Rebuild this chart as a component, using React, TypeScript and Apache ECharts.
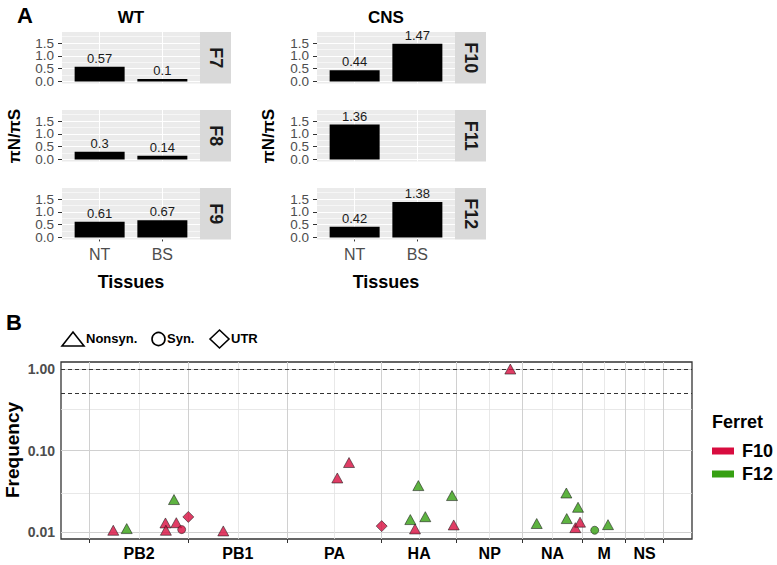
import React, { useEffect, useRef } from 'react';
import * as echarts from 'echarts';

// ---------- Panel A data ----------
const tissues = ['NT', 'BS'];
const wtFerrets = ['F7', 'F8', 'F9'];
const cnsFerrets = ['F10', 'F11', 'F12'];
const ratioF7 = [0.57, 0.1];
const ratioF8 = [0.3, 0.14];
const ratioF9 = [0.61, 0.67];
const ratioF10 = [0.44, 1.47];
const ratioF11 = [1.36, null];
const ratioF12 = [0.42, 1.38];
const ratioTicksA = [0, 1.0];
const ratioTicksB = [0.5, 1.5];
const ratioMinor = [0.25, 0.75, 1.25, 1.75];

// ---------- Panel B data ----------
const genes = ['PB2', 'PB1', 'PA', 'HA', 'NP', 'NA', 'M', 'NS'];
const segmentLengths = [2341, 2341, 2233, 1778, 1565, 1413, 1027, 890];
const freqTicks = [0.01, 0.1, 1];
const freqMinor = [0.0316, 0.316];
const freqCutoffs = [1.0, 0.5];
// [genome position, frequency]
const f10Nonsyn = [[559, 0.0105], [1795, 0.0129], [1805, 0.0105], [2052, 0.013], [3165, 0.0103], [5866, 0.046], [6143, 0.0712], [7706, 0.0109], [8623, 0.0122], [9964, 1.0], [11504, 0.0113], [11615, 0.0132]];
const f10Syn = [[2179, 0.0107]];
const f10Utr = [[2336, 0.0153], [6917, 0.0118]];
const f12Nonsyn = [[877, 0.011], [1997, 0.025], [7595, 0.0142], [7785, 0.0371], [7950, 0.0154], [8583, 0.028], [10589, 0.0127], [11291, 0.0301], [11300, 0.0146], [11568, 0.0201], [12278, 0.0123]];
const f12Syn = [[11963, 0.0105]];

const FONT = 'Liberation Sans, Arial, Helvetica, sans-serif';
const RED = '#D80C3F';
const GREEN = '#36A012';

const boundaries: number[] = [0];
segmentLengths.forEach((l, i) => boundaries.push(boundaries[i] + l));
const midpoints = segmentLengths.map((l, i) => boundaries[i] + l / 2);
const genomeEnd = boundaries[boundaries.length - 1];

const txt = (x: number, y: number, text: string, size: number, o: any = {}) => ({
  type: 'text', x, y, rotation: o.rotation || 0, silent: true,
  style: {
    text, fontSize: size, fontWeight: o.weight || 'bold', fill: o.fill || '#000',
    fontFamily: FONT, align: o.align || 'center', textAlign: o.align || 'center',
    verticalAlign: 'middle', textVerticalAlign: 'middle',
  },
});

export default function App() {
  const ref = useRef<HTMLDivElement>(null);
  useEffect(() => {
    if (!ref.current) return;
    const chart = echarts.init(ref.current, undefined, { renderer: 'svg' });

    const colLeft = [62, 317];
    const plotW = 138;
    const stripW = 31;
    const rowTop = [32, 110, 188];
    const rowH = 51.5;
    const panels = [
      { name: wtFerrets[0], vals: ratioF7 }, { name: wtFerrets[1], vals: ratioF8 }, { name: wtFerrets[2], vals: ratioF9 },
      { name: cnsFerrets[0], vals: ratioF10 }, { name: cnsFerrets[1], vals: ratioF11 }, { name: cnsFerrets[2], vals: ratioF12 },
    ];

    const grid: any[] = [];
    const xAxis: any[] = [];
    const yAxis: any[] = [];
    const series: any[] = [];
    const graphic: any[] = [];

    const ratioY = (gi: number, ticks: number[]) => ({
      gridIndex: gi, type: 'value', min: -0.08, max: 1.93, position: 'left',
      axisLine: { show: false }, splitLine: { show: false },
      axisTick: { show: true, customValues: ticks, length: 4, lineStyle: { color: '#333', width: 1 } },
      axisLabel: {
        customValues: ticks, formatter: (v: number) => v.toFixed(1), fontSize: 13.5, lineHeight: 12,
        color: '#4D4D4D', margin: 8, fontFamily: FONT, showMinLabel: true, showMaxLabel: true,
      },
    });

    panels.forEach((p, i) => {
      const c = Math.floor(i / 3);
      const r = i % 3;
      const isBottom = r === 2;
      grid.push({ left: colLeft[c], top: rowTop[r], width: plotW, height: rowH, show: true, backgroundColor: '#EBEBEB', borderWidth: 0 });
      xAxis.push({
        gridIndex: i, type: 'value', min: 0.4, max: 2.6,
        axisLine: { show: false }, splitLine: { show: false },
        axisTick: { show: isBottom, customValues: [1, 2], length: 4, lineStyle: { color: '#333', width: 1 } },
        axisLabel: { show: isBottom, customValues: [1, 2], formatter: (v: number) => tissues[Math.round(v) - 1], fontSize: 16, color: '#4D4D4D', margin: 7, fontFamily: FONT },
      });
      const yi = yAxis.length;
      yAxis.push(ratioY(i, ratioTicksA));
      yAxis.push(ratioY(i, ratioTicksB));
      series.push({
        type: 'line', xAxisIndex: i, yAxisIndex: yi, data: [], silent: true,
        markLine: {
          z: 1, silent: true, symbol: 'none', animation: false, label: { show: false },
          data: [
            ...[...ratioTicksA, ...ratioTicksB].map((v) => ({ yAxis: v, lineStyle: { color: '#FFFFFF', width: 1.1, type: 'solid' } })),
            ...ratioMinor.map((v) => ({ yAxis: v, lineStyle: { color: '#FFFFFF', width: 0.55, type: 'solid' } })),
            ...[1, 2].map((v) => ({ xAxis: v, lineStyle: { color: '#FFFFFF', width: 1.1, type: 'solid' } })),
          ],
        },
      });
      const data = p.vals.map((v, k) => (v == null ? null : [k + 1, v])).filter((d) => d !== null);
      series.push({
        type: 'bar', xAxisIndex: i, yAxisIndex: yi, data, barWidth: 50, z: 3,
        itemStyle: { color: '#000' },
        label: { show: true, position: 'top', distance: 2, fontSize: 13, color: '#1A1A1A', fontFamily: FONT, formatter: (q: any) => String(q.value[1]) },
      });
      // strip
      const sx = colLeft[c] + plotW;
      graphic.push({ type: 'rect', silent: true, shape: { x: sx, y: rowTop[r], width: stripW, height: rowH }, style: { fill: '#D9D9D9' } });
      graphic.push(txt(sx + stripW / 2, rowTop[r] + rowH / 2, p.name, 18, { rotation: -Math.PI / 2, fill: '#1A1A1A' }));
    });

    // Panel B grid
    const bg = grid.length;
    grid.push({ left: 61, top: 362, width: 631, height: 177, show: true, backgroundColor: '#FFFFFF', borderColor: '#333', borderWidth: 1.3 });
    const pad = genomeEnd * 0.05;
    const bx = xAxis.length;
    xAxis.push({
      gridIndex: bg, type: 'value', min: -pad, max: genomeEnd + pad,
      axisLine: { show: false }, splitLine: { show: false },
      axisTick: { show: true, customValues: boundaries, length: 4, lineStyle: { color: '#333', width: 1 } },
      axisLabel: {
        customValues: midpoints, fontSize: 16, fontWeight: 'bold', color: '#000', margin: 6, fontFamily: FONT,
        formatter: (v: number) => {
          let best = 0;
          midpoints.forEach((m, k) => { if (Math.abs(m - v) < Math.abs(midpoints[best] - v)) best = k; });
          return genes[best];
        },
      },
    });
    const by = yAxis.length;
    yAxis.push({
      gridIndex: bg, type: 'log', logBase: 10, min: 0.0082, max: 1.22,
      axisLine: { show: false }, splitLine: { show: false }, minorSplitLine: { show: false },
      axisTick: { show: true, customValues: freqTicks, length: 4, lineStyle: { color: '#333', width: 1 } },
      axisLabel: { customValues: freqTicks, formatter: (v: number) => Number(v).toFixed(2), fontSize: 14, fontWeight: 'bold', color: '#4D4D4D', margin: 6, fontFamily: FONT },
    });
    series.push({
      type: 'line', xAxisIndex: bx, yAxisIndex: by, data: [], silent: true,
      markLine: {
        z: 1, silent: true, symbol: 'none', animation: false, label: { show: false },
        data: [
          ...freqTicks.map((v) => ({ yAxis: v, lineStyle: { color: '#D0D0D0', width: 1, type: 'solid' } })),
          ...freqMinor.map((v) => ({ yAxis: v, lineStyle: { color: '#E2E2E2', width: 0.8, type: 'solid' } })),
          ...boundaries.map((v) => ({ xAxis: v, lineStyle: { color: '#D0D0D0', width: 1, type: 'solid' } })),
          ...midpoints.map((v) => ({ xAxis: v, lineStyle: { color: '#E2E2E2', width: 0.8, type: 'solid' } })),
        ],
      },
    });
    series.push({
      type: 'line', xAxisIndex: bx, yAxisIndex: by, data: [], silent: true,
      markLine: {
        z: 2, silent: true, symbol: 'none', animation: false, label: { show: false },
        data: freqCutoffs.map((v) => ({ yAxis: v, lineStyle: { color: '#333', width: 1, type: [4, 3] } })),
      },
    });
    const pointStyle = (color: string) => ({ color, borderColor: '#1A1A1A', borderWidth: 0.7 });
    const sc = (name: string, data: number[][], symbol: string, size: any, color: string) => ({
      type: 'scatter', name, xAxisIndex: bx, yAxisIndex: by, data, symbol, symbolSize: size, itemStyle: pointStyle(color), z: 4,
    });
    series.push(sc('F10 Nonsyn.', f10Nonsyn, 'triangle', [11, 10], RED));
    series.push(sc('F10 Syn.', f10Syn, 'circle', 8, RED));
    series.push(sc('F10 UTR', f10Utr, 'diamond', [11, 11], RED));
    series.push(sc('F12 Nonsyn.', f12Nonsyn, 'triangle', [11, 10], GREEN));
    series.push(sc('F12 Syn.', f12Syn, 'circle', 8, GREEN));

    // Titles and annotations
    graphic.push(txt(25, 15, 'A', 22));
    graphic.push(txt(colLeft[0] + plotW / 2, 17, 'WT', 17));
    graphic.push(txt(colLeft[1] + plotW / 2, 17, 'CNS', 17));
    graphic.push(txt(14, 136, 'πN/πS', 17, { rotation: Math.PI / 2 }));
    graphic.push(txt(268, 136, 'πN/πS', 17, { rotation: Math.PI / 2 }));
    graphic.push(txt(colLeft[0] + plotW / 2, 282, 'Tissues', 18));
    graphic.push(txt(colLeft[1] + plotW / 2, 282, 'Tissues', 18));
    graphic.push(txt(14, 322, 'B', 22));
    graphic.push(txt(12, 450, 'Frequency', 19, { rotation: Math.PI / 2 }));

    // Shape legend
    const ls = { fill: 'none', stroke: '#000', lineWidth: 1.6 };
    graphic.push({ type: 'polygon', silent: true, shape: { points: [[62, 346], [73, 332], [84, 346]] }, style: ls });
    graphic.push(txt(86, 338, 'Nonsyn.', 13, { align: 'left' }));
    graphic.push({ type: 'circle', silent: true, shape: { cx: 158.5, cy: 339, r: 6.5 }, style: ls });
    graphic.push(txt(167, 338, 'Syn.', 13, { align: 'left' }));
    graphic.push({ type: 'polygon', silent: true, shape: { points: [[210, 339], [219.5, 330], [229, 339], [219.5, 348]] }, style: ls });
    graphic.push(txt(231, 338, 'UTR', 13, { align: 'left' }));

    // Color legend
    graphic.push(txt(712, 422, 'Ferret', 18, { align: 'left' }));
    graphic.push({ type: 'rect', silent: true, shape: { x: 712, y: 447.5, width: 22, height: 7 }, style: { fill: RED } });
    graphic.push(txt(742, 451, 'F10', 18, { align: 'left' }));
    graphic.push({ type: 'rect', silent: true, shape: { x: 712, y: 470.5, width: 22, height: 7 }, style: { fill: GREEN } });
    graphic.push(txt(742, 474, 'F12', 18, { align: 'left' }));

    chart.setOption({
      animation: false,
      backgroundColor: '#FFFFFF',
      textStyle: { fontFamily: FONT },
      grid, xAxis, yAxis, series, graphic,
    });
    return () => chart.dispose();
  }, []);
  return <div ref={ref} style={{ position: 'fixed', left: 0, top: 0, width: 777, height: 565 }} />;
}
